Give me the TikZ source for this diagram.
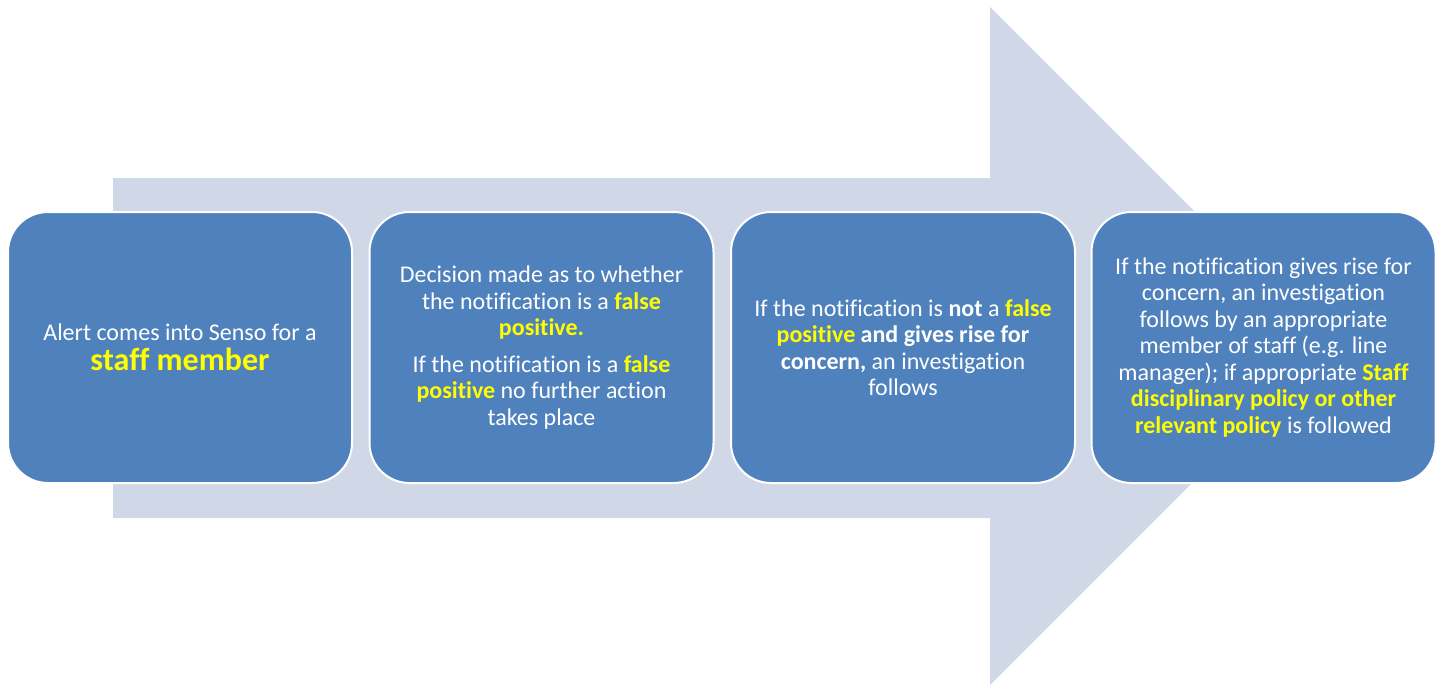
\documentclass[tikz,border=0pt]{standalone}
\usepackage{fontspec}
\setmainfont{Carlito}[Ligatures={NoCommon}]
\definecolor{boxblue}{HTML}{4F81BD}
\definecolor{arrowgray}{HTML}{D0D8E8}
\definecolor{hlyellow}{HTML}{FFFF00}
\newcommand\yel[1]{\textbf{\textcolor{hlyellow}{#1}}}
\begin{document}
\begin{tikzpicture}[x=1pt,y=-1pt,
  stepbox/.style={draw=white, line width=2pt, fill=boxblue, rounded corners=40pt,
    minimum width=344pt, minimum height=271pt, text=white, align=center,
    font=\fontsize{24}{26.5}\selectfont, inner sep=0pt}]
\useasboundingbox (0,0) rectangle (1439,685);
\fill[arrowgray] (113,178) -- (990,178) -- (990,7) -- (1329,346) -- (990,685) -- (990,518) -- (113,518) -- cycle;
\node[stepbox] (s1) at (180,347.5) {Alert comes into Senso for a\\[3pt]
  {\fontsize{32}{30}\selectfont\yel{staff member}}};
\node[stepbox] (s2) at (541.5,347.5) {Decision made as to whether\\
  the notification is a \yel{false}\\
  \yel{positive.}\\[10pt]
  If the notification is a \yel{false}\\
  \yel{positive} no further action\\
  takes place};
\node[stepbox] (s3) at (903,347.5) {If the notification is \textbf{not} a \yel{false}\\
  \yel{positive} \textbf{and gives rise for}\\
  \textbf{concern,} an investigation\\
  follows};
\node[stepbox] (s4) at (1263.5,347.5) {If the notification gives rise for\\
  concern, an investigation\\
  follows by an appropriate\\
  member of staff (e.g. line\\
  manager); if appropriate \yel{Staff}\\
  \yel{disciplinary policy or other}\\
  \yel{relevant policy} is followed};
\end{tikzpicture}
\end{document}
